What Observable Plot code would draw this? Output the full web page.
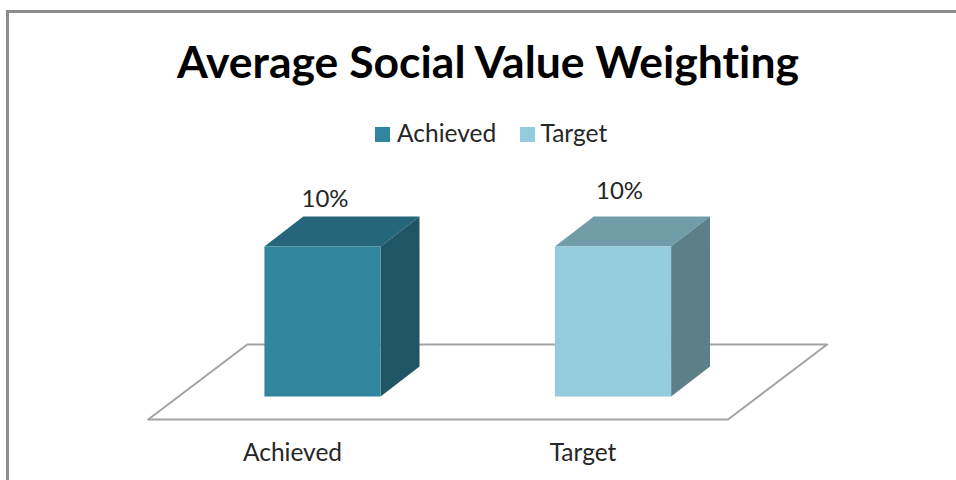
<!DOCTYPE html>
<html>
<head>
<meta charset="utf-8">
<script src="https://cdn.jsdelivr.net/npm/d3@7"></script>
<script src="https://cdn.jsdelivr.net/npm/@observablehq/plot@0.6"></script>
<style>
  html, body { margin: 0; padding: 0; background: #fff; width: 956px; height: 480px; overflow: hidden; }
  #frame { position: absolute; left: 6px; top: 10px; right: 0; bottom: 0; border-left: 3px solid #8c8c8c; border-top: 3px solid #8c8c8c; }
  #title { position: absolute; left: 0; width: 976px; top: 35px; margin: 0; text-align: center; font: 700 44.5px Lato, sans-serif; font-variant-ligatures: none; color: #000; line-height: 52px; }
  #legend { position: absolute; left: 0; top: 118px; height: 30px; font: 24.5px Lato, sans-serif; color: #262626; }
  #legend .sw { position: absolute; top: 9px; width: 15px; height: 15px; }
  #legend .lb { position: absolute; top: 0; line-height: 30px; white-space: nowrap; }
  #chart { position: absolute; left: 0; top: 150px; }
  #chart svg { background: transparent; }
</style>
</head>
<body>
<div id="frame"></div>
<h1 id="title"></h1>
<div id="legend"></div>
<div id="chart"></div>
<script>
const titleText = "Average Social Value Weighting";
const categories = ["Achieved", "Target"];
const values = [10, 10];
const valueLabels = ["10%", "10%"];
const frontColors = ["#31859c", "#93cddd"];
const topColors = ["#25667a", "#719da9"];
const sideColors = ["#1f5565", "#5c7f88"];

// 3D projection, in data units
const halfWidth = 0.2;
const depthX = 0.134, depthY = 2;
const floorLeft = -0.6, floorRight = 1.396, floorFront = -1.533, floorDepthX = 0.341, floorDepthY = 5;

const face = (pts) => pts.map(([x, y]) => ({x, y}));
const marks = [];

// floor
marks.push(Plot.line(face([
  [floorLeft, floorFront], [floorRight, floorFront],
  [floorRight + floorDepthX, floorFront + floorDepthY],
  [floorLeft + floorDepthX, floorFront + floorDepthY],
  [floorLeft, floorFront]
]), {x: "x", y: "y", stroke: "#a3a3a3", strokeWidth: 2, fill: "white", curve: "linear"}));

// bars: front, top and side faces
categories.forEach((c, i) => {
  const v = values[i], l = i - halfWidth, r = i + halfWidth;
  marks.push(Plot.line(face([[l, v], [r, v], [r + depthX, v + depthY], [l + depthX, v + depthY], [l, v]]),
    {x: "x", y: "y", fill: topColors[i], stroke: "none"}));
  marks.push(Plot.line(face([[r, 0], [r + depthX, depthY], [r + depthX, v + depthY], [r, v], [r, 0]]),
    {x: "x", y: "y", fill: sideColors[i], stroke: "none"}));
  marks.push(Plot.line(face([[l, 0], [r, 0], [r, v], [l, v], [l, 0]]),
    {x: "x", y: "y", fill: frontColors[i], stroke: "none"}));
});

// value labels
const labelRows = categories.map((c, i) => ({i, v: values[i], t: valueLabels[i], dy: [-47, -55][i], dx: [2.5, 6.5][i]}));
labelRows.forEach(d => marks.push(Plot.text([d], {
  x: "i", y: "v", text: "t", dy: d.dy, dx: d.dx, fontSize: 24, fill: "#262626", fontFamily: "Lato, sans-serif"
})));

// category axis
marks.push(Plot.axisX({
  ticks: [0, 1], tickFormat: i => categories[i], tickSize: 0, anchor: "bottom", label: null,
  dx: -30, dy: -37, tickPadding: 0, fontSize: 24.5, fill: "#262626", fontFamily: "Lato, sans-serif", textOverflow: null
}));

const plot = Plot.plot({
  width: 956, height: 330,
  marginTop: 0, marginBottom: 0, marginLeft: 0, marginRight: 0,
  style: {fontFamily: "Lato, sans-serif", fontSize: "24px", overflow: "visible"},
  x: {domain: [0, 1], range: [322, 612.5], axis: null},
  y: {domain: [0, 10], range: [246, 96], axis: null},
  marks
});
document.getElementById("chart").appendChild(plot);
document.getElementById("title").textContent = titleText;

const legend = document.getElementById("legend");
const swatchX = [375, 520], labelX = [397, 540.5];
categories.forEach((c, i) => {
  const s = document.createElement("span");
  s.className = "sw"; s.style.left = swatchX[i] + "px"; s.style.background = frontColors[i];
  const t = document.createElement("span");
  t.className = "lb"; t.style.left = labelX[i] + "px"; t.textContent = c;
  legend.append(s, t);
});
</script>
</body>
</html>
